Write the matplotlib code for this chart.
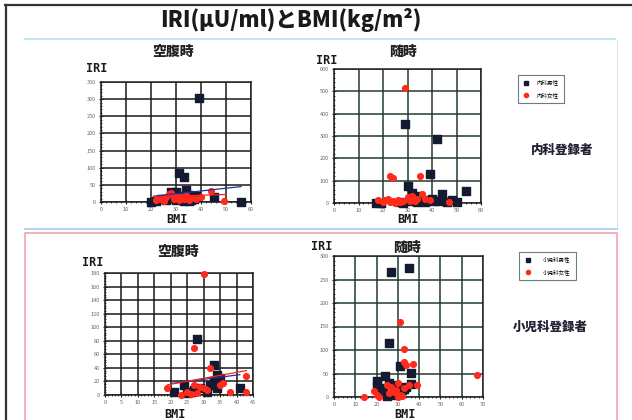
import numpy as np
import matplotlib.pyplot as plt
from matplotlib.lines import Line2D
from matplotlib.patches import Rectangle
from matplotlib.ticker import MultipleLocator

plt.rcParams['font.family'] = ['Noto Sans CJK JP', 'DejaVu Sans']

# 内科 空腹時 (BMI, IRI)
int_fast_m_bmi = [39, 31, 33, 20, 28, 30, 34, 32, 35, 38, 45, 56, 24, 26, 30, 33, 36, 22, 35, 29, 31, 37]
int_fast_m_iri = [303, 85, 72, 0, 30, 28, 35, 18, 20, 18, 15, 0, 10, 5, 5, 3, 5, 3, 2, 12, 10, 8]
int_fast_f_bmi = [22, 24, 27, 28, 30, 32, 34, 36, 40, 44, 49, 25, 29, 31, 33, 38, 26, 35]
int_fast_f_iri = [5, 8, 22, 25, 18, 15, 20, 12, 15, 33, 2, 3, 8, 5, 8, 10, 15, 6]
int_fast_m_fit_x = [21, 56]
int_fast_m_fit_y = [17, 45]
int_fast_f_fit_x = [21, 50]
int_fast_f_fit_y = [15, 22]

# 内科 随時
int_rand_m_bmi = [29, 42, 39, 30, 44, 54, 32, 35, 33, 38, 40, 48, 50, 17, 19, 27, 31, 36, 41, 46, 37, 34, 28, 43]
int_rand_m_iri = [352, 285, 128, 78, 42, 53, 45, 30, 20, 15, 18, 12, 5, 0, 2, 5, 10, 8, 10, 5, 3, 5, 0, 8]
int_rand_f_bmi = [29, 23, 24, 35, 36, 18, 21, 22, 24, 26, 27, 30, 31, 32, 33, 34, 37, 39, 47, 25, 28, 20, 23]
int_rand_f_iri = [513, 120, 110, 120, 40, 12, 15, 20, 10, 15, 5, 25, 8, 30, 10, 18, 20, 12, 5, 0, 8, 5, 3]

# 小児科 空腹時
ped_fast_m_bmi = [28, 33, 34, 35, 33, 32, 24, 21, 25, 27, 29, 31, 41, 34, 26]
ped_fast_m_iri = [83, 45, 30, 25, 20, 15, 15, 5, 3, 8, 10, 5, 10, 10, 5]
ped_fast_f_bmi = [30, 27, 32, 19, 23, 25, 26, 28, 29, 30, 31, 36, 38, 43, 43, 35, 27]
ped_fast_f_iri = [178, 70, 40, 10, 0, 5, 2, 3, 12, 10, 8, 18, 5, 28, 5, 15, 15]
ped_fast_m_fit_x = [20, 41]
ped_fast_m_fit_y = [17, 30]
ped_fast_f_fit_x = [19, 43]
ped_fast_f_fit_y = [15, 36]

# 小児科 随時
ped_rand_m_bmi = [27, 35, 26, 31, 36, 24, 20, 20, 22, 26, 28, 30, 32, 34, 36, 23, 25, 29, 31, 33, 21]
ped_rand_m_iri = [265, 275, 115, 65, 52, 45, 33, 25, 20, 30, 25, 20, 15, 22, 28, 10, 3, 5, 12, 18, 15]
ped_rand_f_bmi = [31, 33, 33, 34, 37, 67, 14, 19, 20, 21, 25, 27, 29, 30, 30, 31, 32, 33, 35, 39, 28, 26]
ped_rand_f_iri = [160, 102, 75, 68, 70, 47, 0, 12, 5, 0, 25, 22, 15, 30, 0, 5, 3, 20, 25, 25, 10, 8]

MALE = '#141a30'
FEMALE = '#ff2a1a'
W, H = 632, 420


def px_rect(x0, y0, x1, y1):
    return [x0 / W, 1 - y1 / H, (x1 - x0) / W, (y1 - y0) / H]


def panel(fig, rect, xmax, xstep, ymax, ystep, m, f, grid_color='#1a1a1a',
          m_fit=None, f_fit=None):
    ax = fig.add_axes(rect)
    ax.set_xlim(0, xmax)
    ax.set_ylim(0, ymax)
    ax.xaxis.set_major_locator(MultipleLocator(xstep))
    ax.yaxis.set_major_locator(MultipleLocator(ystep))
    ax.xaxis.set_minor_locator(MultipleLocator(xstep / 5))
    ax.yaxis.set_minor_locator(MultipleLocator(ystep / 5))
    ax.grid(True, which='major', color=grid_color, lw=1.1)
    ax.tick_params(which='major', labelsize=4, colors='#222222', labelcolor='#666666',
                   length=3, width=0.8, direction='inout', pad=2)
    ax.tick_params(which='minor', length=2, width=0.6, direction='inout', colors='#222222')
    for s in ax.spines.values():
        s.set_color('#222222')
        s.set_linewidth(1.1)
    ax.set_axisbelow(True)
    ax.scatter(m[0], m[1], marker='s', s=28, color=MALE, zorder=3, clip_on=False)
    ax.scatter(f[0], f[1], marker='o', s=17, color=FEMALE, zorder=4, clip_on=False)
    if m_fit is not None:
        ax.plot(m_fit[0], m_fit[1], color='#2230a0', lw=0.9, zorder=5)
    if f_fit is not None:
        ax.plot(f_fit[0], f_fit[1], color='#ff2020', lw=0.9, zorder=5)
    return ax


fig = plt.figure(figsize=(6.32, 4.2), dpi=100)
fig.patch.set_facecolor('white')

# slide frame and section rules
fig.add_artist(Line2D([5 / W, 1], [1 - 5 / H, 1 - 5 / H], color='#333333', lw=1.6))
fig.add_artist(Line2D([6 / W, 6 / W], [0, 1 - 5 / H], color='#333333', lw=1.6))
fig.add_artist(Line2D([25 / W, 615 / W], [1 - 39 / H, 1 - 39 / H], color='#b4e0ea', lw=1.2))
fig.add_artist(Line2D([617 / W, 617 / W], [1 - 40 / H, 1 - 228 / H], color='#e4e4e4', lw=0.8))
fig.add_artist(Line2D([25 / W, 617 / W], [1 - 229 / H, 1 - 229 / H], color='#a8c8f0', lw=1.2))
fig.add_artist(Rectangle((25 / W, -0.05), 592 / W, 1 - 233 / H + 0.05,
                         transform=fig.transFigure, fill=False,
                         edgecolor='#f2a4b8', lw=1.2))

fig.text(291 / W, 1 - 20 / H, 'IRI(μU/ml)とBMI(kg/m²)', ha='center', va='center',
         fontsize=15.5, fontweight='heavy', color='#1a1a1a')

ax1 = panel(fig, px_rect(101, 82, 251, 202), 60, 10, 350, 50,
            (int_fast_m_bmi, int_fast_m_iri), (int_fast_f_bmi, int_fast_f_iri),
            m_fit=(int_fast_m_fit_x, int_fast_m_fit_y),
            f_fit=(int_fast_f_fit_x, int_fast_f_fit_y))
ax2 = panel(fig, px_rect(334, 69, 481, 203), 60, 10, 600, 100,
            (int_rand_m_bmi, int_rand_m_iri), (int_rand_f_bmi, int_rand_f_iri),
            grid_color='#203a30')
ax3 = panel(fig, px_rect(105, 273, 253, 395), 45, 5, 180, 20,
            (ped_fast_m_bmi, ped_fast_m_iri), (ped_fast_f_bmi, ped_fast_f_iri),
            m_fit=(ped_fast_m_fit_x, ped_fast_m_fit_y),
            f_fit=(ped_fast_f_fit_x, ped_fast_f_fit_y))
ax4 = panel(fig, px_rect(334, 256, 483, 397), 70, 10, 300, 50,
            (ped_rand_m_bmi, ped_rand_m_iri), (ped_rand_f_bmi, ped_rand_f_iri),
            grid_color='#203a30')

# panel titles and axis names
for x, y, t in [(173, 52, '空腹時'), (403, 52, '随時'), (178, 252, '空腹時'), (407, 248, '随時')]:
    fig.text(x / W, 1 - y / H, t, ha='center', va='center', fontsize=10,
             fontweight='heavy', color='#222222')
mono = ['DejaVu Sans Mono']
for x, y in [(97, 68), (327, 61), (93, 263), (322, 247)]:
    fig.text(x / W, 1 - y / H, 'IRI', ha='center', va='center', fontsize=8.5,
             fontweight='bold', family=mono, color='#1a1a1a')
for x, y in [(177, 219), (408, 219), (175, 414), (405, 415)]:
    fig.text(x / W, 1 - y / H, 'BMI', ha='center', va='center', fontsize=8.5,
             fontweight='bold', family=mono, color='#1a1a1a')

# legends and group names
handles_int = [Line2D([], [], ls='none', marker='s', ms=3, color=MALE),
               Line2D([], [], ls='none', marker='o', ms=3, color=FEMALE)]
fig.legend(handles_int, ['内科男性', '内科女性'], loc='upper left',
           bbox_to_anchor=(515 / W, 1 - 72 / H), fontsize=4, frameon=True,
           fancybox=False, edgecolor='#555566', handletextpad=1.5,
           borderpad=0.9, labelspacing=1.2, handlelength=1.0).get_frame().set_linewidth(0.8)
fig.legend(handles_int, ['小児科男性', '小児科女性'], loc='upper left',
           bbox_to_anchor=(516 / W, 1 - 249 / H), fontsize=4, frameon=True,
           fancybox=False, edgecolor='#446655', handletextpad=2.0,
           borderpad=0.9, labelspacing=1.2, handlelength=1.5).get_frame().set_linewidth(0.8)
fig.text(562 / W, 1 - 150 / H, '内科登録者', ha='center', va='center', fontsize=9,
         fontweight='heavy', color='#222233')
fig.text(550 / W, 1 - 327 / H, '小児科登録者', ha='center', va='center', fontsize=9,
         fontweight='heavy', color='#222233')

fig.savefig('out.png', dpi=100)
